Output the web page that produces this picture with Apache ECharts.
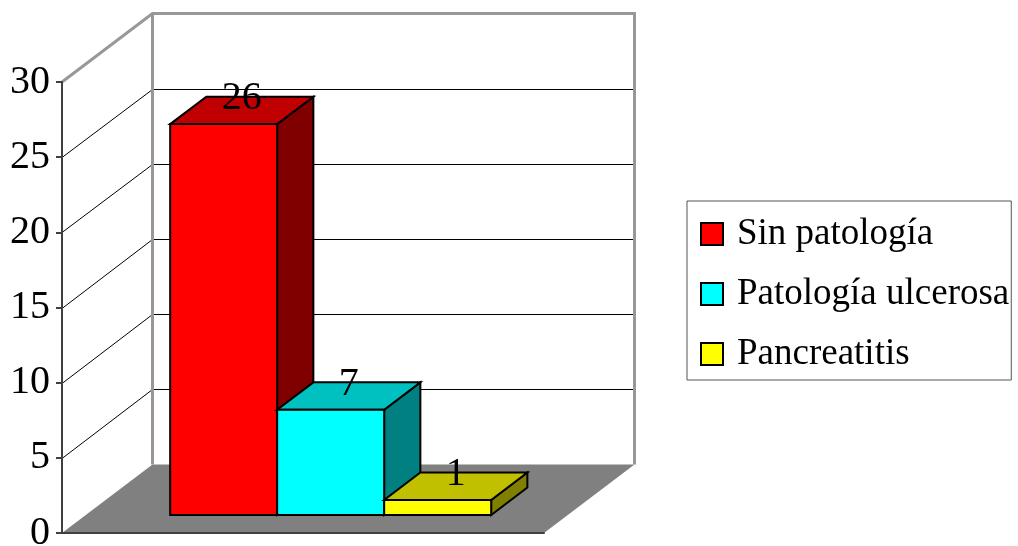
<!DOCTYPE html>
<html>
<head>
<meta charset="utf-8">
<script src="https://cdn.jsdelivr.net/npm/echarts@6/dist/echarts.min.js"></script>
<style>
  html, body { margin: 0; padding: 0; background: #fff; }
  #chart { width: 1018px; height: 546px; }
</style>
</head>
<body>
<div id="chart"></div>
<script>
// ---- data ----
const categories = ['Casos'];
const seriesNames = ['Sin patología', 'Patología ulcerosa', 'Pancreatitis'];
const seriesValues = [26, 7, 1];
const yTicks = [0, 5, 10, 15, 20, 25, 30];

// ---- styling ----
const faceColors = [
  { front: '#ff0000', top: '#c00000', side: '#800000' },
  { front: '#00ffff', top: '#00c0c0', side: '#008080' },
  { front: '#ffff00', top: '#c0c000', side: '#808000' }
];
const DEPTH = [90.5, -68.5];   // back wall offset from the front plane
const BAR_FRONT = 0.263;       // depth fraction of the bar front faces
const BAR_DEPTH = 0.40;        // depth fraction taken by each bar
const BAR_W = 0.222;           // bar width as a share of the category band
const GROUP_SHIFT = 0.008;
const FONT = '"Liberation Serif", "Times New Roman", serif';

const crisp = v => Math.round(v) + 0.5;

// back wall, floor, gridlines
function wallsItem(params, api) {
  const cs = params.coordSys;
  const x0 = cs.x, x1 = cs.x + cs.width;
  const dx = DEPTH[0], dy = DEPTH[1];
  const yMin = api.coord([0, yTicks[0]])[1];
  const yMax = api.coord([0, yTicks[yTicks.length - 1]])[1];
  const children = [];
  children.push({
    type: 'polygon',
    shape: { points: [[x0, yMin], [x1, yMin], [x1 + dx, yMin + dy], [x0 + dx, yMin + dy]] },
    style: { fill: '#808080' }
  });
  yTicks.slice(1, -1).forEach(v => {
    const y = api.coord([0, v])[1];
    children.push({
      type: 'polyline',
      shape: { points: [[x0, crisp(y)], [x0 + dx, crisp(y + dy)], [x1 + dx, crisp(y + dy)]] },
      style: { stroke: '#000', lineWidth: 1, fill: null }
    });
  });
  children.push({
    type: 'polyline',
    shape: { points: [[x0, yMax], [x0 + dx, yMax + dy], [x1 + dx, yMax + dy], [x1 + dx, yMin + dy]] },
    style: { stroke: '#989898', lineWidth: 3, fill: null }
  });
  children.push({
    type: 'line',
    shape: { x1: x0 + dx, y1: yMax + dy, x2: x0 + dx, y2: yMin + dy },
    style: { stroke: '#989898', lineWidth: 3 }
  });
  return { type: 'group', children };
}

// one 3D bar per series, side by side within the category
function barItem(params, api) {
  const k = params.seriesIndex - 1;
  const cat = api.value(0), val = api.value(1);
  const base = api.coord([cat, 0]);
  const top = api.coord([cat, val]);
  const band = api.size([1, 0])[0];
  const w = band * BAR_W;
  const fx = DEPTH[0] * BAR_FRONT, fy = DEPTH[1] * BAR_FRONT;
  const bx = DEPTH[0] * BAR_DEPTH, by = DEPTH[1] * BAR_DEPTH;
  const xl = base[0] - 1.5 * w + k * w + fx + GROUP_SHIFT * band;
  const xr = xl + w;
  const yb = base[1] + fy;
  const yt = top[1] + fy;
  const c = faceColors[k];
  const edge = { stroke: '#000', lineWidth: 2, lineJoin: 'miter' };
  return {
    type: 'group',
    children: [
      {
        type: 'polygon',
        shape: { points: [[xr, yt], [xr + bx, yt + by], [xr + bx, yb + by], [xr, yb]] },
        style: Object.assign({ fill: c.side }, edge)
      },
      {
        type: 'polygon',
        shape: { points: [[xl, yt], [xr, yt], [xr + bx, yt + by], [xl + bx, yt + by]] },
        style: Object.assign({ fill: c.top }, edge)
      },
      {
        type: 'rect',
        shape: { x: xl, y: yt, width: w, height: yb - yt },
        style: Object.assign({ fill: c.front }, edge)
      },
      {
        type: 'text',
        z2: 50,
        style: {
          text: String(val),
          x: xl + w / 2 + bx / 2,
          y: yt + by / 2 + 8,
          align: 'center',
          verticalAlign: 'bottom',
          font: '40px ' + FONT,
          fill: '#000'
        }
      }
    ]
  };
}

const chart = echarts.init(document.getElementById('chart'));
chart.setOption({
  animation: false,
  backgroundColor: '#fff',
  grid: { left: 62, top: 82, width: 482, height: 451, outerBoundsMode: 'none', containLabel: false },
  legend: {
    data: seriesNames,
    orient: 'vertical',
    left: 687,
    top: 201,
    padding: [13, 2, 6, 13],
    itemGap: 20,
    itemWidth: 22,
    itemHeight: 22,
    icon: 'rect',
    borderColor: '#555',
    borderWidth: 1,
    itemStyle: { borderColor: '#000', borderWidth: 2 },
    textStyle: { fontFamily: FONT, fontSize: 37, color: '#000', lineHeight: 40, padding: [0, 0, 0, 9] }
  },
  xAxis: {
    type: 'category',
    data: categories,
    z: 5,
    axisLine: { lineStyle: { color: '#404040', width: 2 } },
    axisTick: { show: false },
    axisLabel: { show: false },
    splitLine: { show: false }
  },
  yAxis: {
    type: 'value',
    min: 0,
    max: 30,
    interval: 5,
    z: 5,
    axisLine: { show: true, lineStyle: { color: '#404040', width: 2 } },
    axisTick: { show: true, length: 6, lineStyle: { color: '#404040', width: 2 } },
    axisLabel: { fontFamily: FONT, fontSize: 40, color: '#000', margin: 12 },
    splitLine: { show: false }
  },
  series: [
    {
      type: 'custom',
      z: 1,
      silent: true,
      renderItem: wallsItem,
      data: [[0, 0]]
    }
  ].concat(seriesNames.map((name, i) => ({
    type: 'custom',
    name: name,
    z: 2,
    renderItem: barItem,
    itemStyle: { color: faceColors[i].front },
    data: [[0, seriesValues[i]]]
  })))
});
</script>
</body>
</html>
